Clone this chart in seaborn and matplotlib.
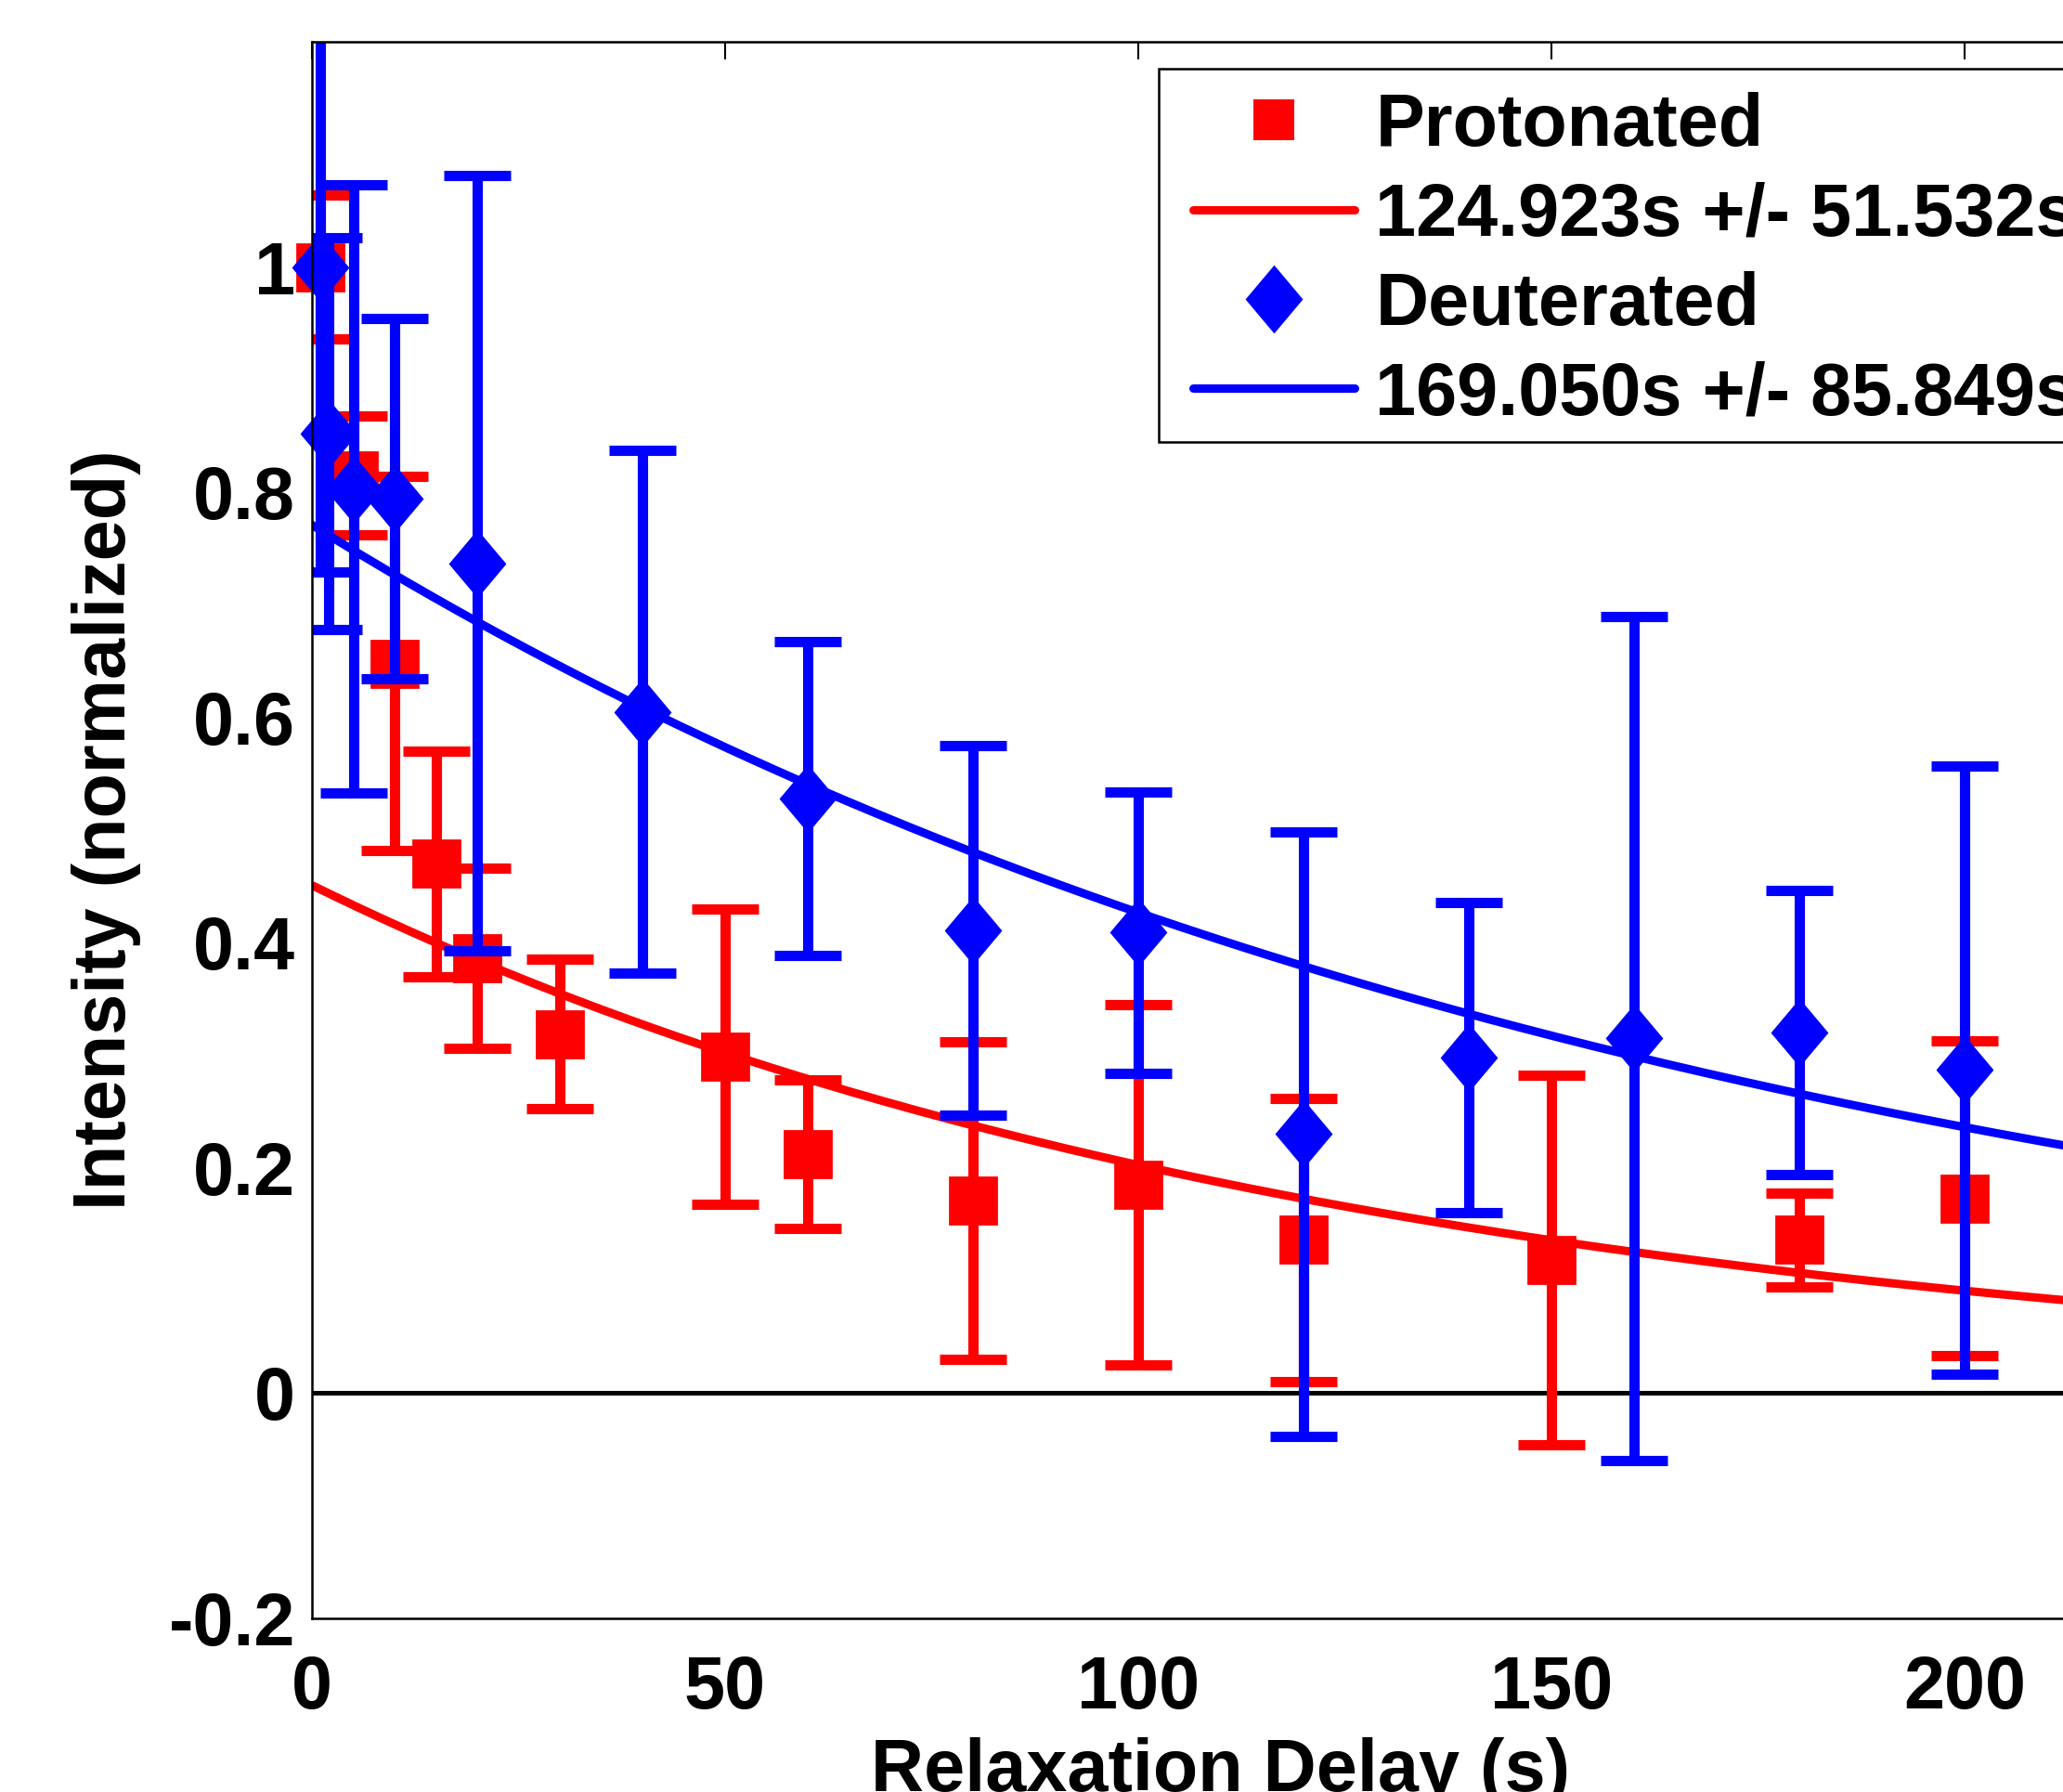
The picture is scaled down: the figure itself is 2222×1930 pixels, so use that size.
import numpy as np
import pandas as pd
import matplotlib
matplotlib.use("Agg")
import matplotlib.pyplot as plt
from matplotlib.lines import Line2D
from matplotlib.patches import Rectangle
import seaborn as sns

# ---------------- data ----------------
prot_t = [1, 5, 10, 15, 20, 30, 50, 60, 80, 100, 120, 150, 180, 200]
prot_y = [1.0, 0.815, 0.648, 0.470, 0.386, 0.319, 0.299, 0.212, 0.171, 0.185, 0.136, 0.118, 0.136, 0.173]
prot_err = [0.064, 0.053, 0.166, 0.100, 0.080, 0.066, 0.131, 0.066, 0.141, 0.160, 0.126, 0.164, 0.042, 0.140]

deut_t = [1, 2, 5, 10, 20, 40, 60, 80, 100, 120, 140, 160, 180, 200]
deut_y = [1.0, 0.852, 0.803, 0.794, 0.737, 0.605, 0.528, 0.411, 0.409, 0.230, 0.298, 0.315, 0.320, 0.287]
deut_err = [0.271, 0.174, 0.270, 0.160, 0.344, 0.232, 0.139, 0.164, 0.125, 0.268, 0.138, 0.375, 0.126, 0.270]

# fitted single-exponential parameters (amplitude, time constant in s)
prot_amp, prot_tau = 0.451, 124.923
deut_amp, deut_tau = 0.771, 169.050

legend_labels = ["Protonated", "124.923s +/- 51.532s", "Deuterated", "169.050s +/- 85.849s"]
x_ticks = [0, 50, 100, 150, 200]
y_ticks = [-0.2, 0, 0.2, 0.4, 0.6, 0.8, 1]
y_tick_labels = ["-0.2", "0", "0.2", "0.4", "0.6", "0.8", "1"]

# ---------------- style ----------------
sns.set_theme(style="white")
plt.rcParams["font.family"] = ["Liberation Sans", "DejaVu Sans"]
plt.rcParams["font.weight"] = "bold"
plt.rcParams["axes.labelweight"] = "bold"
plt.rcParams["text.color"] = "black"
plt.rcParams["axes.labelcolor"] = "black"
FS = 57

W, H = 2222, 1930
fig = plt.figure(figsize=(W / 100, H / 100), dpi=100)
ax = fig.add_axes([0.15122, 0.09689, 0.88119, 0.87979])
ax.set_facecolor("white")

RED = "#FF0000"
BLUE = "#0000FF"
diamond = [(0, 1), (0.84, 0), (0, -1), (-0.84, 0), (0, 1)]

t_fit = np.linspace(0, 220, 300)
fit_p = pd.DataFrame({"t": t_fit, "y": prot_amp * np.exp(-t_fit / prot_tau)})
fit_d = pd.DataFrame({"t": t_fit, "y": deut_amp * np.exp(-t_fit / deut_tau)})

ax.axhline(0, color="black", lw=3.6, zorder=1.5)

# Protonated
ax.errorbar(prot_t, prot_y, yerr=prot_err, fmt="none", ecolor=RED,
            elinewidth=8, capsize=26, capthick=8, zorder=2)
ax.plot(prot_t, prot_y, linestyle="none", marker="s", ms=36, mew=2, mec=RED,
        mfc=RED, color=RED, zorder=2.05, clip_on=False)
sns.lineplot(data=fit_p, x="t", y="y", color=RED, lw=6.5, ax=ax, zorder=2.1, legend=False)

# Deuterated
ax.errorbar(deut_t, deut_y, yerr=deut_err, fmt="none", ecolor=BLUE,
            elinewidth=8, capsize=26, capthick=8, zorder=2.2)
ax.plot(deut_t, deut_y, linestyle="none", marker=diamond, ms=53, mew=0, color=BLUE,
        zorder=2.25, clip_on=False)
sns.lineplot(data=fit_d, x="t", y="y", color=BLUE, lw=6.5, ax=ax, zorder=2.3, legend=False)

ax.set_xlim(0, 220)
ax.set_ylim(-0.2, 1.2)
ax.set_xticks(x_ticks)
ax.set_xticklabels([str(v) for v in x_ticks])
ax.set_yticks(y_ticks)
ax.set_yticklabels(y_tick_labels)
ax.tick_params(axis="both", direction="in", length=14, width=1.5, colors="black",
               labelsize=FS, top=True, right=True)
ax.tick_params(axis="x", pad=28)
ax.tick_params(axis="y", pad=13)
for lab in ax.get_xticklabels() + ax.get_yticklabels():
    lab.set_fontweight("bold")
for s in ax.spines.values():
    s.set_color("black")
    s.set_linewidth(1.8)
    s.set_visible(True)

ax.set_xlabel("Relaxation Delay (s)", fontsize=FS, fontweight="bold", color="black")
ax.set_ylabel("Intensity (normalized)", fontsize=FS, fontweight="bold", color="black")
ax.xaxis.set_label_coords(0.5, -0.0754)
ax.yaxis.set_label_coords(-0.094, 0.5)

# legend frame (box extends past the right edge like the reference)
frame_left, frame_top, frame_bottom = 1248, 74, 476
fig.patches.append(Rectangle((frame_left / W, 1 - frame_bottom / H),
                             (W + 200 - frame_left) / W, (frame_bottom - frame_top) / H,
                             transform=fig.transFigure, facecolor="white", edgecolor="black",
                             linewidth=1.8, zorder=5))

handles = [
    Line2D([], [], linestyle="none", marker="s", ms=31, mew=0, color=RED),
    Line2D([], [], color=RED, lw=6.5),
    Line2D([], [], linestyle="none", marker=diamond, ms=53, mew=0, color=BLUE),
    Line2D([], [], color=BLUE, lw=6.5),
]
leg = fig.legend(handles, legend_labels, loc="upper left",
                 bbox_to_anchor=(1285 / W, 1 - 99 / H), bbox_transform=fig.transFigure,
                 borderaxespad=0, frameon=False, borderpad=0, labelspacing=0.27,
                 handlelength=2.2, handletextpad=0.28, labelcolor="black",
                 prop={"weight": "bold", "size": FS, "family": ["Liberation Sans", "DejaVu Sans"]})
leg.set_zorder(6)

fig.savefig("out.png", dpi=100, facecolor="white")
